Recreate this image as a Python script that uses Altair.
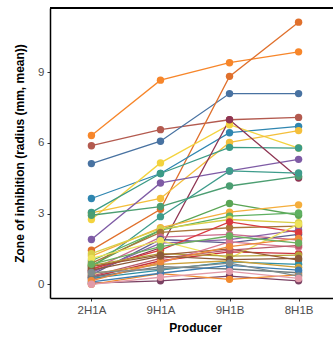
import altair as alt
import pandas as pd

producers = ["2H1A", "9H1A", "9H1B", "8H1B"]

strains = [f"S{i:02d}" for i in range(1, 39)]

v_2H1A = [6.31, 5.88, 5.12, 1.45, 3.64, 2.75, 3.03, 3.05, 1.90, 0.55,
          2.93, 0.70, 0.80, 1.20, 1.00, 1.30, 0.90, 0.60, 0.40, 0.50,
          0.65, 0.30, 1.10, 0.80, 0.75, 0.20, 0.35, 0.25, 0.45, 0.30,
          0.05, 0.00, 0.10, 0.15, 0.60, 0.50, 0.00, 0.85]
v_9H1A = [8.66, 6.56, 6.07, 3.18, 4.70, 5.15, 3.64, 4.70, 4.30, 1.55,
          3.30, 2.87, 2.30, 2.40, 2.30, 2.35, 2.20, 2.00, 1.90, 1.75,
          1.45, 1.00, 1.85, 1.30, 1.25, 0.90, 1.10, 0.60, 0.85, 0.75,
          0.15, 0.45, 0.47, 0.95, 1.20, 0.65, 0.30, 1.60]
v_9H1B = [9.40, 6.98, 8.09, 8.82, 6.43, 6.77, 6.02, 5.81, 4.81, 6.98,
          4.17, 4.81, 3.43, 3.06, 2.89, 2.75, 2.40, 2.12, 1.76, 1.90,
          2.65, 1.38, 1.10, 1.20, 1.50, 1.80, 1.45, 0.95, 1.00, 0.65,
          0.35, 0.21, 0.80, 1.60, 1.05, 0.90, 0.55, 2.05]
v_8H1B = [9.86, 7.08, 8.09, 11.12, 6.70, 5.78, 6.52, 5.78, 5.30, 4.51,
          4.58, 4.72, 2.93, 3.37, 3.03, 2.61, 2.47, 1.88, 2.12, 2.30,
          2.20, 1.30, 2.55, 1.24, 1.03, 1.57, 1.65, 0.85, 0.72, 0.49,
          0.15, 0.40, 0.60, 1.95, 1.10, 0.35, 0.25, 1.75]

colors = ["#F7862A", "#B35A4F", "#4872A1", "#E0702C", "#2F86B0", "#F3D33E",
          "#F4BF3B", "#3B9B86", "#7E5BA5", "#8F3553", "#4C9E72", "#3E9C8C",
          "#5AA555", "#F5AE3C", "#5FB062", "#D8CF48", "#A9763A", "#CC6C8C",
          "#5C5F8D", "#8B62A8", "#D93A3F", "#C8323C", "#EDE35A", "#B4A23A",
          "#9A5B35", "#D9788F", "#B85A6A", "#2E8FA6", "#CDA13A", "#6C7A7F",
          "#7A4163", "#F28A2E", "#3E7DB0", "#EE8A3A", "#8C5A3A", "#7F8C8D",
          "#E29AA8", "#6BAF5F"]

rows = []
for i, s in enumerate(strains):
    for p, vals in zip(producers, [v_2H1A, v_9H1A, v_9H1B, v_8H1B]):
        rows.append({"strain": s, "producer": p, "zoi": vals[i]})
df = pd.DataFrame(rows)

FONT = "Liberation Sans"

x_enc = alt.X("producer:N", sort=producers, title="Producer",
              scale=alt.Scale(type="point", range=[0, 290], padding=0.6),
              axis=alt.Axis(labelAngle=0, titlePadding=7))
y_enc = alt.Y("zoi:Q", title="Zone of inhibition (radius (mm, mean))",
              scale=alt.Scale(domain=[-0.58, 11.72], nice=False, zero=False),
              axis=alt.Axis(values=[0, 3, 6, 9], titlePadding=11))
c_enc = alt.Color("strain:N", scale=alt.Scale(domain=strains, range=colors), legend=None)

lines = alt.Chart(df).mark_line(strokeWidth=1.3).encode(
    x=x_enc, y=y_enc, color=c_enc, detail="strain:N")
points = alt.Chart(df).mark_circle(size=55, opacity=1).encode(
    x=x_enc, y=y_enc, color=c_enc)
top_line = alt.Chart(df).mark_rule(color="black", strokeWidth=1.5).encode(
    x=alt.value(0), x2=alt.value(283), y=alt.value(0))

chart = alt.layer(lines, points, top_line).properties(
    width=283, height=290,
    autosize=alt.AutoSizeParams(type="none"),
    padding={"left": 50, "top": 8, "right": 0, "bottom": 39},
).configure_view(stroke=None).configure_axis(
    grid=False,
    domainColor="black", domainWidth=1.5,
    tickColor="#333333", tickSize=3, tickWidth=1,
    labelFont=FONT, labelFontSize=11.5, labelColor="#4D4D4D", labelPadding=3,
    titleFont=FONT, titleFontSize=12, titleFontWeight="bold", titleColor="black",
)

chart.save("out.html", embed_options={"renderer": "svg", "actions": False})
